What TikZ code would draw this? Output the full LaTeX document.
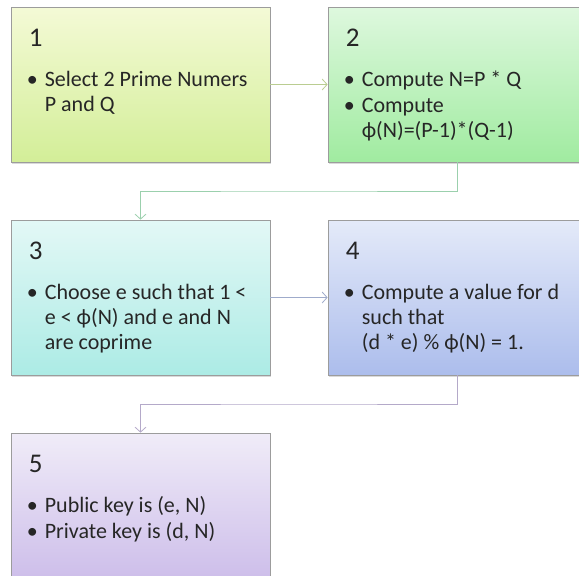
\documentclass[tikz,border=0pt]{standalone}
\usepackage{fontspec}
\setmainfont{Carlito}
\usetikzlibrary{positioning,calc,shadows,arrows.meta}

\definecolor{ink}{HTML}{262626}
\definecolor{edge}{HTML}{9C9C9C}
\definecolor{yelTop}{HTML}{F4FAD6}\definecolor{yelBot}{HTML}{D3EE98}
\definecolor{grnTop}{HTML}{DEF8DE}\definecolor{grnBot}{HTML}{A0EBA0}
\definecolor{cyaTop}{HTML}{E3F8F6}\definecolor{cyaBot}{HTML}{ACEBE5}
\definecolor{bluTop}{HTML}{E4EAF9}\definecolor{bluBot}{HTML}{ACBDEC}
\definecolor{vioTop}{HTML}{F0ECF8}\definecolor{vioBot}{HTML}{CBBBE9}

\newcommand{\bul}{\llap{•\hspace{7pt}}}

\begin{document}
\begin{tikzpicture}[x=1pt,y=-1pt,node distance=213pt and 317pt,on grid,
  >={Straight Barb[length=5pt,width=11pt]},
  stepbox/.style={rectangle,draw=edge,line width=0.7pt,inner sep=0pt,
    minimum width=259pt,minimum height=155pt,
    drop shadow={shadow xshift=1pt,shadow yshift=-1.5pt,opacity=0.3}},
  head/.style={anchor=base west,inner sep=0pt,text=ink,
    font=\fontsize{27}{30}\selectfont},
  items/.style={anchor=north west,inner sep=0pt,align=left,text=ink,
    font=\fontsize{22}{25}\selectfont},
  link/.style={->,line width=0.8pt}]
\useasboundingbox (0,0) rectangle (579,576);
\clip (0,0) rectangle (579,576);

% the five steps
\node[stepbox,top color=yelTop,bottom color=yelBot] (s1) at (140.5,84.5) {};
\node[stepbox,top color=grnTop,bottom color=grnBot] (s2) [right=of s1] {};
\node[stepbox,top color=cyaTop,bottom color=cyaBot] (s3) [below=of s1] {};
\node[stepbox,top color=bluTop,bottom color=bluBot] (s4) [right=of s3] {};
\node[stepbox,top color=vioTop,bottom color=vioBot] (s5) [below=of s3] {};

\node[head] (h1) at ([shift={(18,40)}]s1.north west) {1};
\node[items] (t1) at ([shift={(34,62.5)}]s1.north west)
  {\strut\bul Select 2 Prime Numers\\P and Q};
\node[head] (h2) at ([shift={(18,40)}]s2.north west) {2};
\node[items] (t2) at ([shift={(34,62.5)}]s2.north west)
  {\strut\bul Compute N=P * Q\\[1pt]\bul Compute\\ϕ(N)=(P-1)*(Q-1)};
\node[head] (h3) at ([shift={(18,40)}]s3.north west) {3};
\node[items] (t3) at ([shift={(34,62.5)}]s3.north west)
  {\strut\bul Choose e such that 1 <\\e < ϕ(N) and e and N\\are coprime};
\node[head] (h4) at ([shift={(18,40)}]s4.north west) {4};
\node[items] (t4) at ([shift={(34,62.5)}]s4.north west)
  {\strut\bul Compute a value for d\\such that\\(d * e) \% ϕ(N) = 1.};
\node[head] (h5) at ([shift={(18,40)}]s5.north west) {5};
\node[items] (t5) at ([shift={(34,62.5)}]s5.north west)
  {\strut\bul Public key is (e, N)\\[1pt]\bul Private key is (d, N)};

% connectors
\coordinate (m23) at ($(s2.south)!0.5!(s3.north)$);
\coordinate (m45) at ($(s4.south)!0.5!(s5.north)$);
\draw[link,draw=yelBot!70!gray] (s1) -- (s2);
\draw[link,draw=grnBot!60!cyaBot!75!gray] (s2.south) |- (m23) -| (s3.north);
\draw[link,draw=bluBot!70!gray] (s3) -- (s4);
\draw[link,draw=vioBot!70!gray] (s4.south) |- (m45) -| (s5.north);
\end{tikzpicture}
\end{document}
